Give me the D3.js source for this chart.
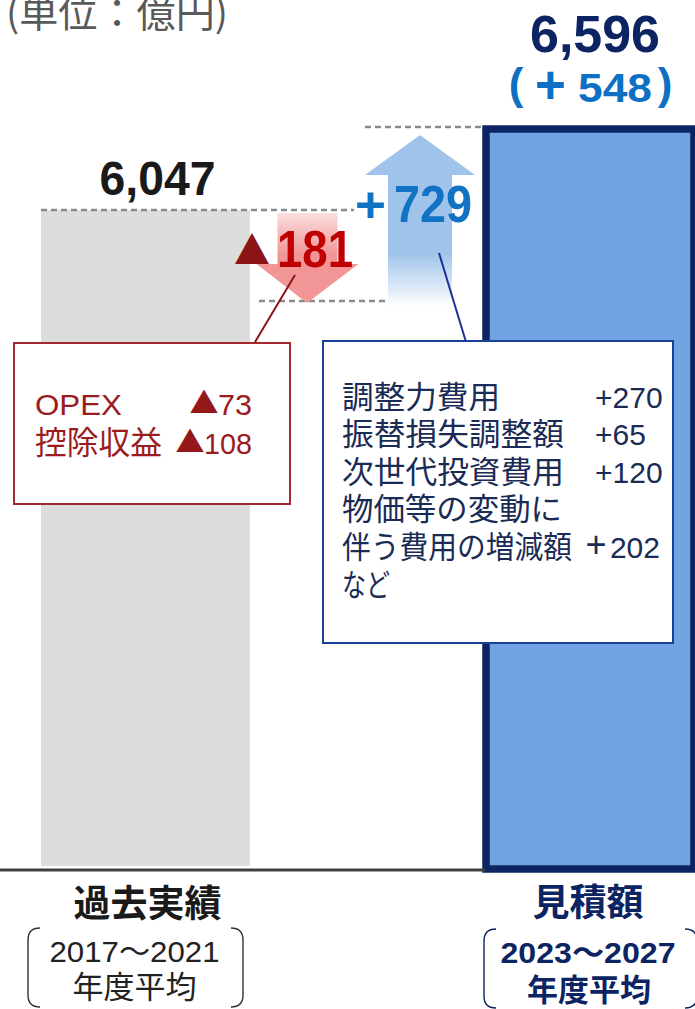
<!DOCTYPE html>
<html><head><meta charset="utf-8">
<script src="https://cdn.jsdelivr.net/npm/d3@7"></script>
<style>
html,body{margin:0;padding:0;background:#fff;}
svg{display:block;}
</style></head>
<body>
<svg id="chart" width="695" height="1009"></svg>
<script>
// ---------- data ----------
const unitLabel = "(単位：億円)";
const steps = ["past", "down", "up", "estimate"];
const categories = ["過去実績", "見積額"];
const periods = [["2017～2021", "年度平均"], ["2023～2027", "年度平均"]];
const totals = [6047, 6596];
const totalLabels = ["6,047", "6,596"];
const diffParts = ["(", "+", "548", ")"];
const deltas = [-181, 729];
const deltaSigns = ["▲", "+"];
const deltaNums = ["181", "729"];
const downItems = ["OPEX", "控除収益"];
const downValues = ["73", "108"];
const upItems = ["調整力費用", "振替損失調整額", "次世代投資費用", "物価等の変動に", "伴う費用の増減額", "など"];
const upValues = ["+270", "+65", "+120", "", "202", ""];

// ---------- scales ----------
const mid = totals[0] + deltas[0];           // 5866 (after decrease)
const y = d3.scaleLinear()
  .domain([0, mid, totals[0], totals[1]])
  .range([867, 301, 210, 128]);             // broken (schematic) axis
const xc = d3.scaleOrdinal().domain(steps).range([145.5, 307.5, 420, 588]);
const bw = d3.scaleOrdinal().domain(steps).range([209, 60, 64, 206]);

const svg = d3.select("#chart");
const CJK = "'Noto Sans CJK JP', sans-serif";
const LAT = "'Liberation Sans', 'Noto Sans CJK JP', sans-serif";

const defs = svg.append("defs");
const gRed = defs.append("linearGradient").attr("id", "gRed")
  .attr("x1", 0).attr("x2", 0).attr("gradientUnits", "userSpaceOnUse")
  .attr("y1", y(totals[0])).attr("y2", y(totals[0]) + 45);
gRed.append("stop").attr("offset", 0).attr("stop-color", "#fbe3e3");
gRed.append("stop").attr("offset", 1).attr("stop-color", "#f19596");
const gBlue = defs.append("linearGradient").attr("id", "gBlue")
  .attr("x1", 0).attr("x2", 0).attr("gradientUnits", "userSpaceOnUse")
  .attr("y1", y(mid) + 6).attr("y2", y(mid) - 48);
gBlue.append("stop").attr("offset", 0).attr("stop-color", "#ffffff");
gBlue.append("stop").attr("offset", 1).attr("stop-color", "#a0c3eb");

function txt(x, yy, s, size, color, opts = {}) {
  const t = svg.append("text").attr("x", x).attr("y", yy)
    .attr("font-family", opts.family || LAT).attr("font-size", size)
    .attr("font-weight", opts.weight || "normal").attr("fill", color)
    .attr("text-anchor", opts.anchor || "start").text(s);
  if (opts.len) t.attr("textLength", opts.len).attr("lengthAdjust", "spacingAndGlyphs");
  return t;
}

// unit label
txt(6, 27, unitLabel, 39, "#595959", {family: CJK, len: 222});

// past bar
svg.append("rect")
  .attr("x", xc("past") - bw("past") / 2).attr("width", bw("past"))
  .attr("y", y(totals[0])).attr("height", y(0) - y(totals[0]) - 1)
  .attr("fill", "#dddddd");

// estimate bar
svg.append("rect")
  .attr("x", xc("estimate") - bw("estimate") / 2 + 1).attr("width", bw("estimate") + 2)
  .attr("y", y(totals[1]) + 1).attr("height", y(0) - y(totals[1]) + 1)
  .attr("fill", "#6fa3e1").attr("stroke", "#0c2462").attr("stroke-width", 7.5);

// baseline
svg.append("line").attr("x1", 0).attr("x2", xc("estimate") - bw("estimate") / 2)
  .attr("y1", y(0) + 3).attr("y2", y(0) + 3)
  .attr("stroke", "#404040").attr("stroke-width", 3);

// dashed guides
const dash = (x1, x2, yy) => svg.append("line").attr("x1", x1).attr("x2", x2)
  .attr("y1", yy).attr("y2", yy).attr("stroke", "#8a8a8a")
  .attr("stroke-width", 2.5).attr("stroke-dasharray", "6,4");
dash(xc("past") - bw("past") / 2, 354, y(totals[0]));
dash(259, 388, y(mid));
dash(365, 481, y(totals[1]) - 1);

// down arrow
{
  const cx = xc("down"), w = bw("down"), hw = 51, top = y(totals[0]) + 3, tip = y(mid) + 2, hb = tip - 39;
  const p = d3.path();
  p.moveTo(cx - w / 2, top); p.lineTo(cx + w / 2, top); p.lineTo(cx + w / 2, hb);
  p.lineTo(cx + hw, hb); p.lineTo(cx - 0.5, tip); p.lineTo(cx - hw, hb);
  p.lineTo(cx - w / 2, hb); p.closePath();
  svg.append("path").attr("d", p.toString()).attr("fill", "url(#gRed)");
}
// up arrow
{
  const cx = xc("up"), w = bw("up"), hw = 55, bot = y(mid) + 9, tip = y(totals[1]) + 7, hb = tip + 40;
  const p = d3.path();
  p.moveTo(cx - w / 2, bot); p.lineTo(cx - w / 2, hb); p.lineTo(cx - hw, hb);
  p.lineTo(cx, tip); p.lineTo(cx + hw, hb); p.lineTo(cx + w / 2, hb);
  p.lineTo(cx + w / 2, bot); p.closePath();
  svg.append("path").attr("d", p.toString()).attr("fill", "url(#gBlue)");
}

// big value labels
txt(xc("past") + 12, y(totals[0]) - 15, totalLabels[0], 49, "#1a1a1a", {weight: "bold", anchor: "middle", len: 116});
txt(xc("estimate") + 7, y(totals[1]) - 76, totalLabels[1], 51, "#0c2462", {weight: "bold", anchor: "middle", len: 130});
// (＋548)
const dc = "#0e70c2";
txt(516, y(totals[1]) - 29, diffParts[0], 44, dc, {weight: "bold", anchor: "middle"});
txt(550.5, y(totals[1]) - 25, diffParts[1], 53, dc, {weight: "bold", anchor: "middle"});
txt(615, y(totals[1]) - 26, diffParts[2], 41, dc, {weight: "bold", anchor: "middle", len: 74});
txt(665, y(totals[1]) - 29, diffParts[3], 44, dc, {weight: "bold", anchor: "middle"});

// delta labels
txt(252, y(mid) - 37, deltaSigns[0], 38, "#8b1416", {family: CJK, anchor: "middle", len: 36});
txt(315, y(mid) - 34, deltaNums[0], 51, "#c00000", {weight: "bold", anchor: "middle", len: 76});
txt(370.5, y(totals[1]) + 94, deltaSigns[1], 50, "#1273c5", {weight: "bold", anchor: "middle", len: 31});
txt(433, y(totals[1]) + 94, deltaNums[1], 51, "#1273c5", {weight: "bold", anchor: "middle", len: 78});

// leader lines
svg.append("line").attr("x1", 295).attr("y1", 275).attr("x2", 255).attr("y2", 342)
  .attr("stroke", "#8b1416").attr("stroke-width", 2);
svg.append("line").attr("x1", 439).attr("y1", 253).attr("x2", 466).attr("y2", 342)
  .attr("stroke", "#1c3196").attr("stroke-width", 2);

// red callout
const rc = "#9b1c1f";
svg.append("rect").attr("x", 14).attr("y", 343).attr("width", 276).attr("height", 161)
  .attr("fill", "#fff").attr("stroke", "#a3282b").attr("stroke-width", 2);
downItems.forEach((d, i) => {
  const by = 415 + i * 39;
  if (i === 0) txt(35, by, d, 30, rc, {len: 87});
  else txt(35, by, d, 32, rc, {family: CJK, len: 127});
  const numStart = i === 0 ? 218 : 204;
  const numLen = i === 0 ? 34 : 48;
  txt(numStart - 14, by - 1, "▲", 29, "#941719", {family: CJK, anchor: "middle"});
  txt(numStart, by, downValues[i], 30, rc, {len: numLen});
});

// blue callout
const bc = "#1a2b55";
svg.append("rect").attr("x", 323).attr("y", 341).attr("width", 350).attr("height", 302)
  .attr("fill", "#fff").attr("stroke", "#1c3f9a").attr("stroke-width", 2);
upItems.forEach((d, i) => {
  const by = 407.5 + i * 37.6;
  const lens = [158, 222, 222, 220, 230, 48];
  txt(342, by, d, 31, bc, {family: CJK, len: lens[i]});
  if (i === 4) {
    txt(596, by - 1, "+", 36, bc, {anchor: "middle"});
    txt(660, by, upValues[i], 30, bc, {anchor: "end"});
  } else if (upValues[i]) {
    txt(595, by, upValues[i], 30, bc);
  }
});

// category labels
txt(xc("past") + 2, 917, categories[0], 37, "#1a1a1a", {family: CJK, weight: "bold", anchor: "middle"});
txt(xc("estimate"), 916, categories[1], 37, "#0c2462", {family: CJK, weight: "bold", anchor: "middle"});

// bracket boxes
function bracket(x1, x2, y1, y2, color) {
  const r = 12;
  const p = d3.path();
  p.moveTo(x1 + r, y1); p.quadraticCurveTo(x1, y1, x1, y1 + r);
  p.lineTo(x1, y2 - r); p.quadraticCurveTo(x1, y2, x1 + r, y2);
  p.moveTo(x2 - r, y1); p.quadraticCurveTo(x2, y1, x2, y1 + r);
  p.lineTo(x2, y2 - r); p.quadraticCurveTo(x2, y2, x2 - r, y2);
  svg.append("path").attr("d", p.toString()).attr("fill", "none")
    .attr("stroke", color).attr("stroke-width", 1.4);
}
bracket(28, 243, 928, 1007, "#333333");
bracket(484, 697, 929, 1008, "#0c2462");

txt(xc("past") - 11, 962, periods[0][0], 30, "#222222", {anchor: "middle", len: 170});
txt(xc("past") - 11, 998, periods[0][1], 31, "#222222", {family: CJK, anchor: "middle"});
txt(xc("estimate"), 963, periods[1][0], 30, "#0c2462", {weight: "bold", anchor: "middle", len: 175});
txt(xc("estimate") + 1, 1001, periods[1][1], 31, "#0c2462", {family: CJK, weight: "bold", anchor: "middle"});
</script>
</body></html>
